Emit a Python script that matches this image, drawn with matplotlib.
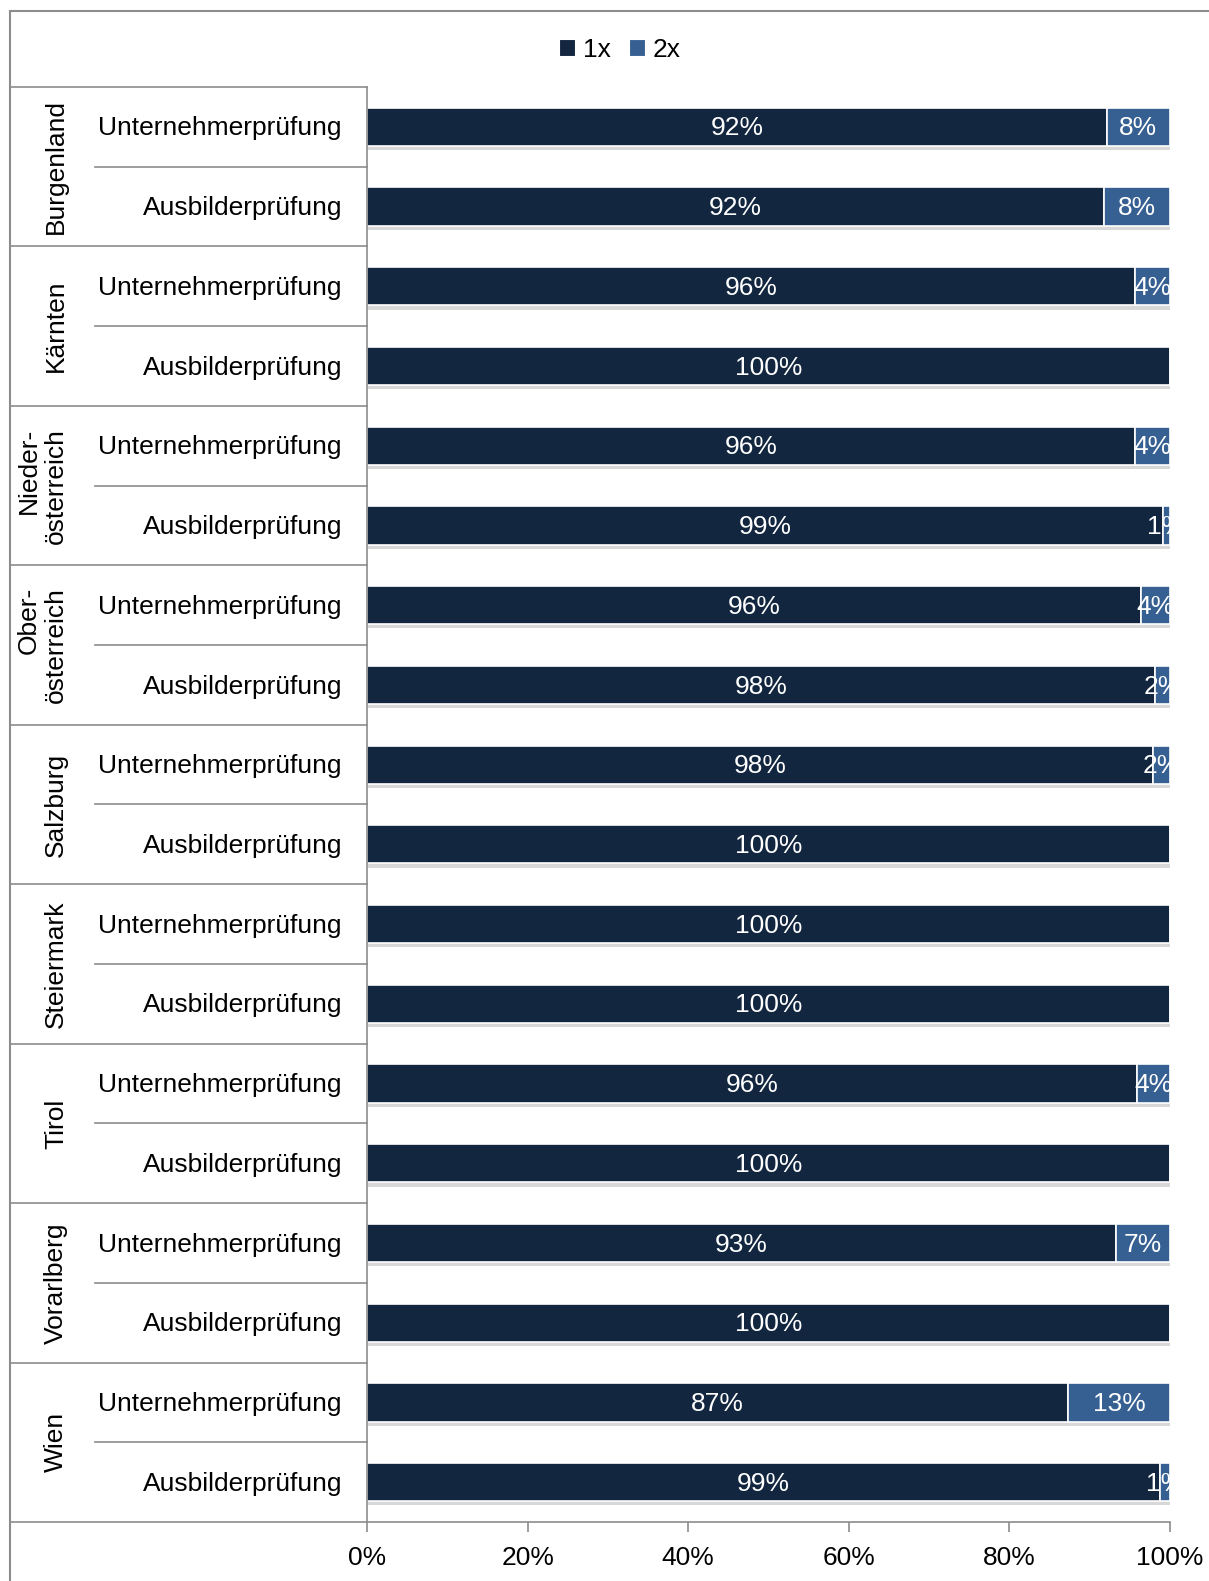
import matplotlib
matplotlib.use("Agg")
import matplotlib.pyplot as plt
import matplotlib.patheffects as pe
from matplotlib.lines import Line2D
from matplotlib.patches import Patch
from matplotlib.ticker import PercentFormatter

plt.rcParams['font.family'] = ['Liberation Sans', 'DejaVu Sans']

regions = ["Burgenland", "Kärnten", "Nieder-\nösterreich", "Ober-\nösterreich", "Salzburg",
           "Steiermark", "Tirol", "Vorarlberg", "Wien"]
exams = ["Unternehmerprüfung", "Ausbilderprüfung"]
share_1x = [92.1, 91.8, 95.7, 100, 95.7, 99.1, 96.4, 98.1, 97.9, 100,
            100, 100, 95.9, 100, 93.3, 100, 87.3, 98.7]
share_2x = [7.9, 8.2, 4.3, 0, 4.3, 0.9, 3.6, 1.9, 2.1, 0,
            0, 0, 4.1, 0, 6.7, 0, 12.7, 1.3]
series = ["1x", "2x"]
colors = ["#12263F", "#376092"]

W, H = 1209, 1581
fig = plt.figure(figsize=(W / 100, H / 100), dpi=100)
x0, x1, y0, y1 = 367, 1170, 87, 1522
ax = fig.add_axes([x0 / W, 1 - y1 / H, (x1 - x0) / W, (y1 - y0) / H])

grey = "#8C8C8C"
n = len(share_1x)
rows = list(range(n))
shadow = [pe.SimplePatchShadow(offset=(1, -3), shadow_rgbFace="#808080", alpha=0.3), pe.Normal()]

b1 = ax.barh(rows, share_1x, height=0.48, color=colors[0], edgecolor="white", lw=1.2)
b2 = ax.barh(rows, share_2x, left=share_1x, height=0.48, color=colors[1], edgecolor="white", lw=1.2)
for bars in (b1, b2):
    for p in bars:
        p.set_path_effects(shadow)

for i in rows:
    ax.text(share_1x[i] / 2, i + 0.02, "%.0f%%" % share_1x[i], color="white", fontsize=19,
            ha="center", va="center", clip_on=True)
    if share_2x[i] > 0:
        ax.text(share_1x[i] + share_2x[i] / 2, i + 0.02, "%.0f%%" % share_2x[i], color="white",
                fontsize=19, ha="center", va="center", clip_on=True)

ax.set_xlim(0, 100)
ax.set_ylim(n - 0.5, -0.5)
ax.xaxis.set_major_formatter(PercentFormatter(decimals=0))
ax.set_xticks(range(0, 101, 20))
ax.tick_params(axis="x", direction="out", length=7, width=1.2, color=grey, labelsize=19, pad=10)
ax.set_yticks([])
for s in ("top", "right"):
    ax.spines[s].set_visible(False)
for s in ("left", "bottom"):
    ax.spines[s].set_color(grey)
    ax.spines[s].set_linewidth(1.2)

# table lines left of the bars
tr = ax.get_yaxis_transform()
left_edge = (10 - x0) / (x1 - x0)
sub_edge = (95 - x0) / (x1 - x0)
for k in range(len(regions) + 1):
    ax.plot([left_edge, 0], [2 * k - 0.5] * 2, color=grey, lw=1.2, transform=tr, clip_on=False)
for k in range(len(regions)):
    ax.plot([sub_edge, 0], [2 * k + 0.5] * 2, color=grey, lw=1.2, transform=tr, clip_on=False)

for k, r in enumerate(regions):
    ax.text((68 - x0) / (x1 - x0), 2 * k + 0.5, r, transform=tr, rotation=90, fontsize=19,
            ha="right", va="center", multialignment="right", linespacing=1.15)
    for j, e in enumerate(exams):
        ax.text((342 - x0) / (x1 - x0), 2 * k + j + 0.02, e, transform=tr, fontsize=19,
                ha="right", va="center")

# outer chart frame
fig.add_artist(Line2D([10 / W, 1], [1 - 11 / H] * 2, color=grey, lw=1.5))
fig.add_artist(Line2D([10 / W] * 2, [0, 1 - 11 / H], color=grey, lw=1.5))

handles = [Patch(facecolor=c, edgecolor="white", lw=0.8) for c in colors]
fig.legend(handles=handles, labels=series, loc="center", bbox_to_anchor=(620 / W, 1 - 50 / H),
           ncol=2, frameon=False, fontsize=19, handlelength=0.6, handleheight=0.6,
           handletextpad=0.3, columnspacing=0.7)

fig.savefig("out.png", dpi=100)
